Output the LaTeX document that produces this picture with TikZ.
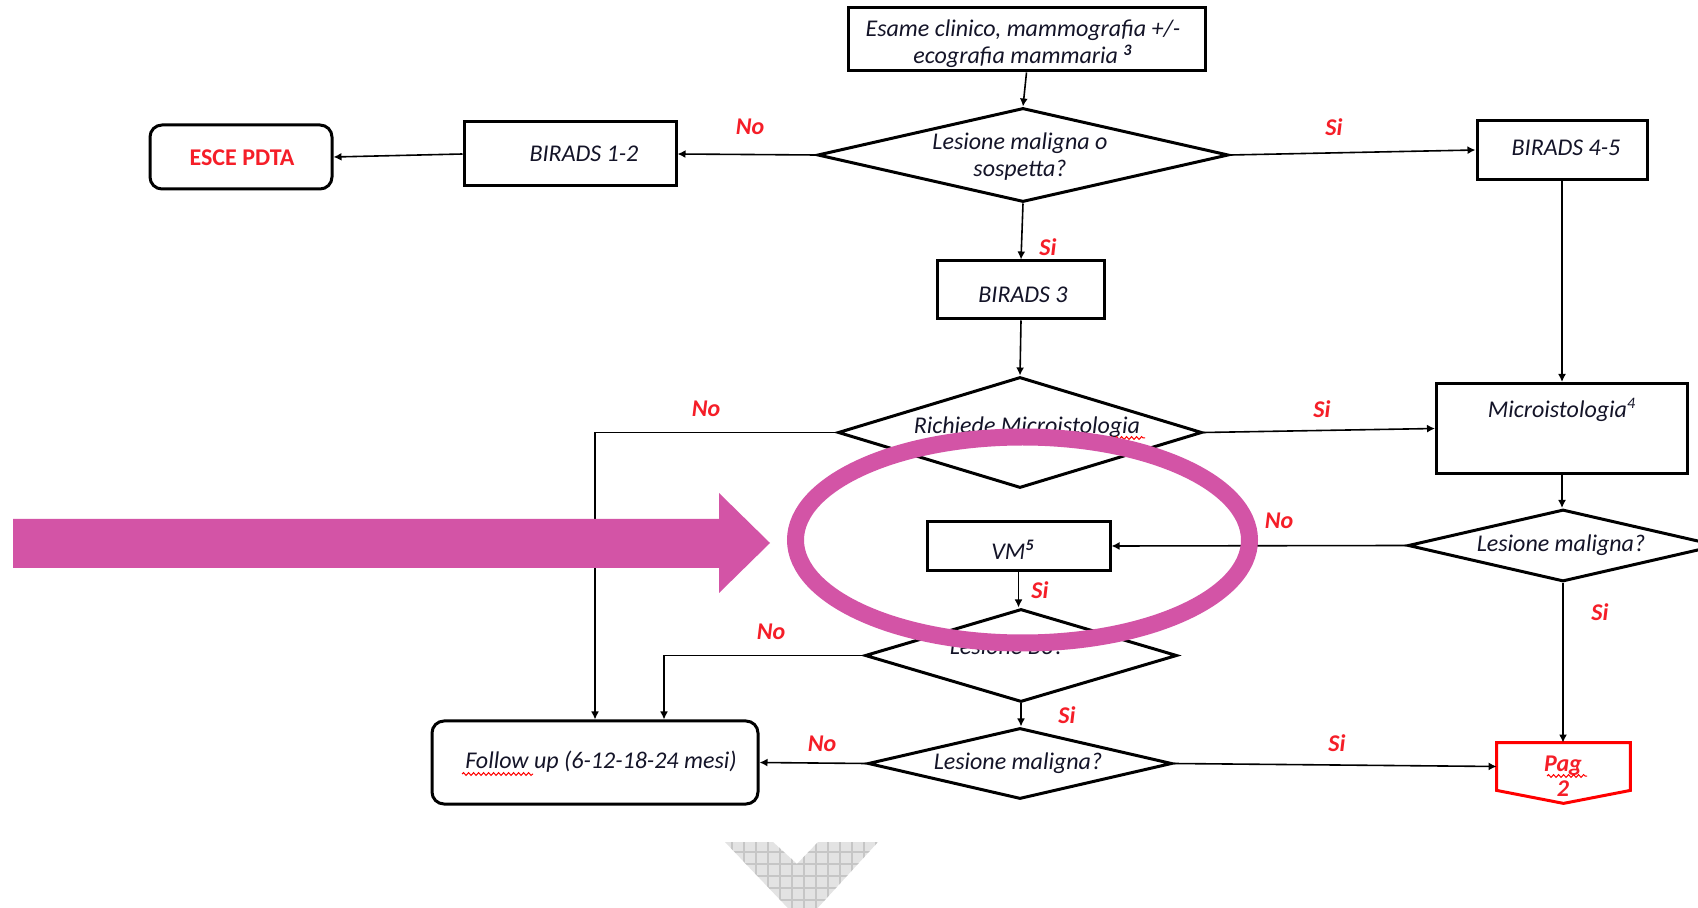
\documentclass[tikz,border=0pt]{standalone}
\usepackage{fontspec}
\setmainfont{Carlito}
\usetikzlibrary{shapes.geometric,arrows.meta,decorations.pathmorphing}
\definecolor{magentaP}{RGB}{211,84,166}
\definecolor{txtc}{RGB}{20,20,40}
\definecolor{lblred}{RGB}{245,30,40}
\tikzset{
  px/.style 2 args={minimum width=#1*0.5pt, minimum height=#2*0.5pt},
  box/.style={draw, line width=1.5pt, inner sep=0pt},
  rbox/.style={box, rounded corners=6pt},
  dia/.style={draw, diamond, line width=1.5pt, inner sep=0pt},
  txt/.style={font=\fontsize{12}{13.5}\selectfont\itshape, text=txtc, align=center, inner sep=0pt},
  lbl/.style={font=\fontsize{12}{13.5}\selectfont\bfseries\itshape, text=lblred, inner sep=0pt},
  conn/.style={line width=0.8pt, -{Latex[length=4pt,width=4pt]}},
  wavy/.style={draw=red, line width=0.5pt, decorate, decoration={snake, amplitude=0.7pt, segment length=2.5pt}}
}
\begin{document}
\begin{tikzpicture}[x=0.5pt,y=-0.5pt]
\useasboundingbox (0,0) rectangle (1698,908);
\fill[white] (0,0) rectangle (1698,908);

% boxes
\node[box, px={357}{63}] (top) at (1026.5,39.5) {};
\node[txt] (topt) at (1023,44) {Esame clinico, mammografia +/-\\ecografia mammaria \textsuperscript{\bfseries 3}};
\node[dia, px={411}{94}] (d1) at (1023,155) {};
\node[txt] (d1t) at (1020,157) {Lesione maligna o\\sospetta?};
\node[box, px={212}{64}] (b12) at (570,154) {};
\node[txt] (b12t) at (584,154) {BIRADS 1-2};
\node[rbox, px={182}{64}] (esce) at (241,157) {};
\node[lbl, font=\fontsize{12}{13.5}\selectfont\bfseries] (escet) at (242,158) {ESCE PDTA};
\node[box, px={170}{59}] (b45) at (1562,150) {};
\node[txt] (b45t) at (1566,148) {BIRADS 4-5};
\node[box, px={167}{58}] (b3) at (1021,290) {};
\node[txt] (b3t) at (1023,295) {BIRADS 3};
\node[dia, px={364}{111}] (d2) at (1020,432.5) {};
\node[txt] (d2t) at (1027,427) {Richiede Microistologia};
\node[box, px={251}{90}] (micro) at (1562,428.5) {};
\node[txt] (microt) at (1562,410) {Microistologia\textsuperscript{4}};
\node[dia, px={310}{72}] (d3) at (1563,545.5) {};
\node[txt] (d3t) at (1561,545) {Lesione maligna?};
\node[box, px={183}{49}] (vm) at (1018.5,546) {};
\node[txt] (vmt) at (1013,550) {VM\textsuperscript{\bfseries 5}};
\node[dia, px={312}{93}] (d4) at (1021,655.5) {};
\node[txt] (d4t) at (1007,646) {Lesione B3?};
\node[dia, px={304}{71}] (d5) at (1020,763.5) {};
\node[txt] (d5t) at (1018,763) {Lesione maligna?};
\node[rbox, px={326}{83}] (fu) at (595,762.5) {};
\node[txt] (fut) at (601,762) {Follow up (6-12-18-24 mesi)};
\node[inner sep=0pt, px={133}{47}] (pag) at (1563.5,766.5) {};
\draw[draw=red, line width=1.5pt] (pag.north west) -- (pag.north east) -- (pag.south east)
  -- ([yshift=-6.5pt]pag.south) -- (pag.south west) -- cycle;
\node[lbl, align=center, font=\fontsize{12}{12.5}\selectfont\bfseries\itshape] (pagt) at (1563,776) {Pag\\2};

% wavy spell-check underlines
\draw[wavy] (462,774) -- (533,774);
\draw[wavy] (1547,776) -- (1587,776);
\draw[wavy] (960,438) -- (1145,438);

% connectors
\draw[conn] (top.south) -- (d1.north);
\draw[conn] (d1.west) -- (b12.east);
\draw[conn] (b12.west) -- (esce.east);
\draw[conn] (d1.east) -- (b45.west);
\draw[conn] (d1.south) -- (b3.north);
\draw[conn] (b3.south) -- (d2.north);
\draw[conn] (d2.east) -- (micro.west);
\draw[conn] (d2.west) -| (fu.north);
\draw[conn] (b45.south) -- (b45.south |- micro.north);
\draw[conn] (micro.south) -- (micro.south |- d3.north);
\draw[conn] (d3.west) -- (vm.east);
\draw[conn] (vm.south) -- (vm.south |- d4.north);
\draw[conn] (d4.west) -| ([xshift=34.5pt]fu.north);
\draw[conn] (d4.south) -- (d4.south |- d5.north);
\draw[conn] (d5.west) -- (fu.east);
\draw[conn] (d5.east) -- (pag.west);
\draw[conn] (d3.south) -- (d3.south |- pag.north);

% labels
\node[lbl] (l1) at (750,127) {No};
\node[lbl] (l2) at (1334,127) {Si};
\node[lbl] (l3) at (1048,247) {Si};
\node[lbl] (l4) at (706,409) {No};
\node[lbl] (l5) at (1322,409) {Si};
\node[lbl] (l6) at (1279,521) {No};
\node[lbl] (l7) at (1040,590) {Si};
\node[lbl] (l8) at (771,632) {No};
\node[lbl] (l9) at (1067,715) {Si};
\node[lbl] (l10) at (822,744) {No};
\node[lbl] (l11) at (1337,743) {Si};
\node[lbl] (l12) at (1600,612) {Si};

% highlight arrow and ellipse
\fill[magentaP] (13,519) -- (719,519) -- (719,493) -- (770,543) -- (719,593) -- (719,568) -- (13,568) -- cycle;
\draw[magentaP, line width=8.5pt] (1022.5,540) ellipse [x radius=113.5pt, y radius=51.5pt];

% grey chevron at the bottom
\begin{scope}
\clip (725,842) -- (773,842) -- (797,864) -- (818,842) -- (878,842) -- (803,924) -- cycle;
\fill[gray!22] (700,830) rectangle (900,930);
\draw[gray!45, line width=0.6pt] (700,830) grid[step=6pt] (900,930);
\end{scope}
\end{tikzpicture}
\end{document}
